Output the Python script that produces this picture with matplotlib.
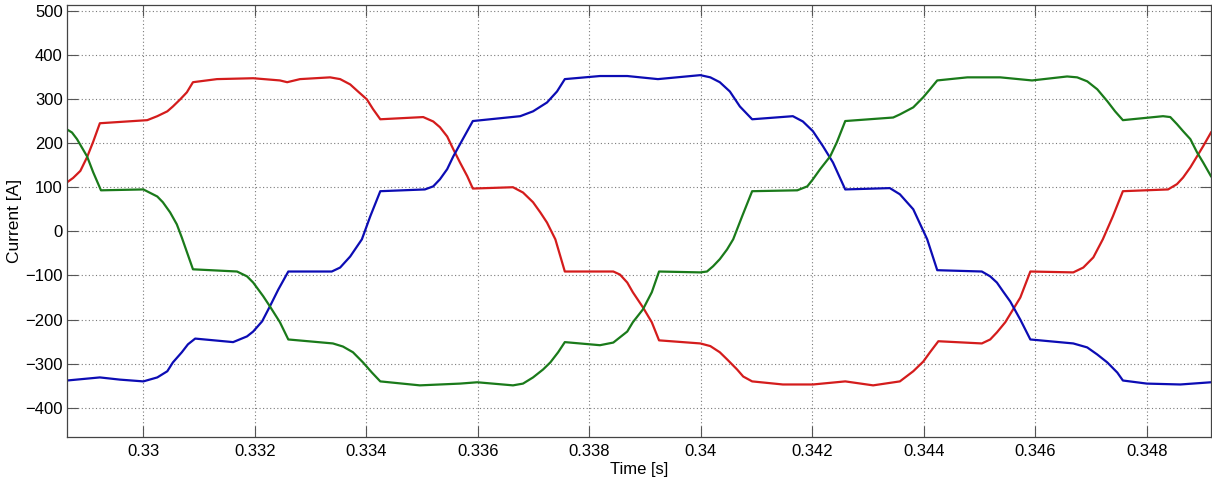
import matplotlib
matplotlib.use("Agg")
import matplotlib.pyplot as plt
from matplotlib.ticker import FuncFormatter

plt.rcParams['font.family'] = ['Liberation Sans', 'DejaVu Sans']

# Phase currents of a six-step drive (time in s, current in A)
t_red = [0.32863, 0.32874, 0.32887, 0.32899, 0.32910, 0.32922, 0.33007, 0.33025,
         0.33043, 0.33053, 0.33066, 0.33078, 0.33089, 0.33132, 0.33197, 0.33245,
         0.33258, 0.33281, 0.33335, 0.33353, 0.33371, 0.33385, 0.33401, 0.33412,
         0.33425, 0.33502, 0.33520, 0.33532, 0.33545, 0.33556, 0.33568, 0.33581,
         0.33591, 0.33663, 0.33681, 0.33699, 0.33712, 0.33724, 0.33739, 0.33756,
         0.33843, 0.33855, 0.33868, 0.33878, 0.33896, 0.33912, 0.33925, 0.33999,
         0.34017, 0.34034, 0.34047, 0.34065, 0.34076, 0.34092, 0.34147, 0.34201,
         0.34259, 0.34309, 0.34357, 0.34381, 0.34399, 0.34411, 0.34426, 0.34504,
         0.34519, 0.34531, 0.34546, 0.34560, 0.34573, 0.34591, 0.34668, 0.34686,
         0.34704, 0.34721, 0.34739, 0.34757, 0.34838, 0.34854, 0.34865, 0.34878,
         0.34890, 0.34901, 0.34915]
i_red = [111, 121, 137, 168, 203, 245, 252, 261,
         272, 283, 299, 315, 338, 345, 347, 342,
         338, 345, 349, 345, 333, 317, 299, 277,
         254, 259, 249, 236, 215, 186, 156, 125,
         97, 100, 88, 66, 43, 20, -18, -91,
         -91, -98, -116, -138, -172, -206, -247, -254,
         -260, -274, -290, -313, -329, -340, -347, -347,
         -340, -349, -340, -317, -295, -274, -249, -254,
         -245, -229, -206, -177, -150, -91, -93, -82,
         -59, -18, 34, 91, 95, 107, 122, 145,
         170, 193, 224]

t_blue = [0.32863, 0.32922, 0.32958, 0.33000, 0.33025, 0.33043, 0.33053, 0.33069,
          0.33080, 0.33093, 0.33161, 0.33186, 0.33197, 0.33213, 0.33227, 0.33242,
          0.33260, 0.33338, 0.33353, 0.33371, 0.33392, 0.33407, 0.33425, 0.33505,
          0.33520, 0.33532, 0.33545, 0.33556, 0.33573, 0.33591, 0.33676, 0.33699,
          0.33724, 0.33742, 0.33756, 0.33819, 0.33868, 0.33923, 0.33999, 0.34017,
          0.34034, 0.34052, 0.34070, 0.34092, 0.34165, 0.34183, 0.34201, 0.34219,
          0.34237, 0.34259, 0.34339, 0.34357, 0.34381, 0.34406, 0.34424, 0.34504,
          0.34519, 0.34531, 0.34542, 0.34555, 0.34573, 0.34591, 0.34668, 0.34693,
          0.34711, 0.34729, 0.34747, 0.34757, 0.34800, 0.34860, 0.34915]
i_blue = [-338, -331, -336, -340, -331, -317, -297, -274,
          -256, -243, -251, -238, -227, -204, -170, -132,
          -91, -91, -82, -57, -18, 34, 91, 95,
          102, 118, 141, 170, 209, 250, 261, 272,
          292, 317, 345, 352, 352, 345, 354, 349,
          338, 317, 283, 254, 261, 249, 227, 193,
          156, 95, 98, 84, 50, -18, -88, -91,
          -102, -116, -136, -159, -200, -245, -254, -263,
          -279, -297, -320, -338, -345, -347, -342]

t_green = [0.32863, 0.32872, 0.32881, 0.32899, 0.32910, 0.32924, 0.33000, 0.33025,
           0.33035, 0.33048, 0.33060, 0.33069, 0.33089, 0.33168, 0.33186, 0.33197,
           0.33215, 0.33227, 0.33245, 0.33260, 0.33340, 0.33358, 0.33376, 0.33394,
           0.33410, 0.33425, 0.33496, 0.33568, 0.33599, 0.33663, 0.33681, 0.33699,
           0.33717, 0.33730, 0.33744, 0.33756, 0.33819, 0.33843, 0.33855, 0.33868,
           0.33878, 0.33896, 0.33912, 0.33925, 0.33999, 0.34011, 0.34022, 0.34034,
           0.34047, 0.34058, 0.34074, 0.34092, 0.34173, 0.34191, 0.34201, 0.34214,
           0.34232, 0.34244, 0.34259, 0.34345, 0.34357, 0.34381, 0.34399, 0.34411,
           0.34424, 0.34478, 0.34537, 0.34594, 0.34657, 0.34675, 0.34693, 0.34711,
           0.34729, 0.34743, 0.34757, 0.34829, 0.34842, 0.34854, 0.34865, 0.34878,
           0.34890, 0.34901, 0.34915]
i_green = [231, 224, 209, 170, 134, 93, 95, 79,
           66, 43, 16, -14, -86, -91, -102, -116,
           -147, -170, -206, -245, -254, -261, -274, -297,
           -320, -340, -349, -345, -342, -349, -345, -331,
           -313, -297, -274, -251, -258, -252, -240, -227,
           -206, -177, -138, -91, -93, -91, -79, -63,
           -41, -18, 34, 91, 93, 102, 118, 141,
           170, 202, 250, 258, 265, 281, 304, 322,
           342, 349, 349, 342, 351, 349, 340, 322,
           295, 272, 252, 261, 259, 243, 227, 209,
           179, 156, 125]

x_ticks = [0.33, 0.332, 0.334, 0.336, 0.338, 0.34, 0.342, 0.344, 0.346, 0.348]
y_ticks = [-400, -300, -200, -100, 0, 100, 200, 300, 400, 500]

fig = plt.figure(figsize=(12.12, 4.79), dpi=100)
ax = fig.add_axes([0.0553, 0.0877, 0.9439, 0.9019])

ax.plot(t_red, i_red, color='#d41c1c', lw=1.6, solid_joinstyle='round')
ax.plot(t_blue, i_blue, color='#0c0cb4', lw=1.6, solid_joinstyle='round')
ax.plot(t_green, i_green, color='#1a7a1a', lw=1.6, solid_joinstyle='round')

ax.set_xlim(0.328631, 0.349151)
ax.set_ylim(-466, 513)
ax.set_xticks(x_ticks)
ax.set_yticks(y_ticks)
ax.xaxis.set_major_formatter(FuncFormatter(lambda v, p: f"{v:g}"))

ax.grid(True, color='#7a7a7a', linestyle=(0, (1, 2.2)), linewidth=0.8)
ax.tick_params(direction='in', length=8, width=0.8, color='#555555',
               top=True, right=True, labelsize=12)
ax.tick_params(axis='x', pad=5)
ax.tick_params(axis='y', pad=3)
for s in ax.spines.values():
    s.set_color('#444444')
    s.set_linewidth(0.9)

ax.set_xlabel('Time [s]', fontsize=12)
ax.set_ylabel('Current [A]', fontsize=12.5)
ax.xaxis.set_label_coords(0.5, -0.057)
ax.yaxis.set_label_coords(-0.039, 0.5)

fig.savefig('out.png', dpi=100)
